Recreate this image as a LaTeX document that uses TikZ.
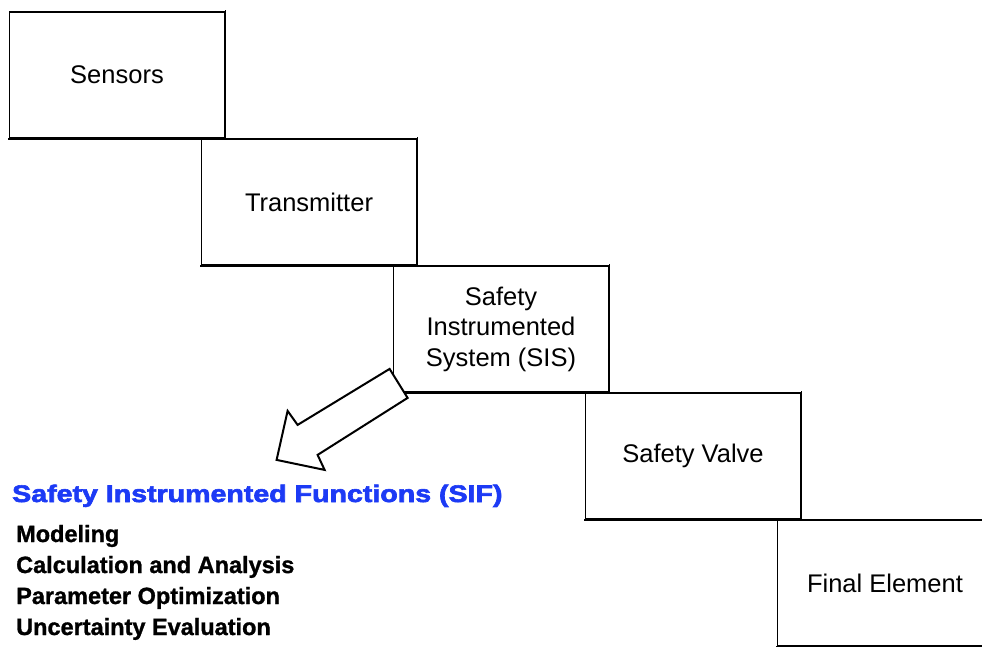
\documentclass[tikz,border=0pt]{standalone}
\usepackage{fontspec}
\usepackage{graphicx}
\setmainfont{Liberation Sans}
\newfontfamily\heavyfont[FakeBold=2.4]{Liberation Sans Bold}
\newfontfamily\semiheavyfont[FakeBold=1.2]{Liberation Sans Bold}
\definecolor{sifblue}{RGB}{28,58,245}

\begin{document}
\begin{tikzpicture}[x=1pt, y=-1pt,
  stage/.style={draw=black, line width=1.8pt, fill=white,
    minimum width=215pt, minimum height=126pt, inner sep=0pt,
    align=center, font=\fontsize{25.5}{30.5}\selectfont},
  edge shadow/.style={line width=1.4pt, line cap=rect},
  blockarrow/.style={draw=black, line width=2pt, fill=white, line join=miter},
  sifhead/.style={anchor=base west, text=sifblue, inner sep=0pt,
    font=\fontsize{24}{28}\heavyfont},
  sifitem/.style={anchor=base west, inner sep=0pt,
    font=\fontsize{23.5}{28}\semiheavyfont},
]
\useasboundingbox (0,0) rectangle (982,646);

% staircase of stages, each one down and to the right of the previous
\node[stage] (sensors) at (117,75)  {\raisebox{-2pt}{Sensors}};
\node[stage] (trans)   at (309,202) {\raisebox{-2pt}{Transmitter}};
\node[stage] (sis)     at (501,329) {Safety\\Instrumented\\System (SIS)};
\node[stage] (valve)   at (693,456) {\raisebox{-2pt}{Safety Valve}};
\node[stage] (final)   at (885,583) {\raisebox{-2pt}{Final Element}};

% heavier right and bottom edges
\foreach \b in {sensors,trans,sis,valve,final}
  \draw[edge shadow] ([shift={(0.2,0)}]\b.north east) -- ([shift={(0.2,0.2)}]\b.south east) -- ([shift={(0,0.2)}]\b.south west);

% hollow block arrow leaving the SIS box
\begin{scope}[shift={(sis.south west)}]
  \draw[blockarrow] (-3,-24) -- (15,5) -- (-75,62) -- (-68,77)
    -- (-116,67) -- (-105,18) -- (-95,32) -- cycle;
\end{scope}

% SIF text block
\node[sifhead] (sif) at (12,502) {\scalebox{1.19}[1]{Safety Instrumented Functions (SIF)}};
\node[sifitem] (m1) at (16,542) {Modeling};
\node[sifitem] (m2) at (16,573) {Calculation and Analysis};
\node[sifitem] (m3) at (16,604) {Parameter Optimization};
\node[sifitem] (m4) at (16,635) {Uncertainty Evaluation};
\end{tikzpicture}
\end{document}
